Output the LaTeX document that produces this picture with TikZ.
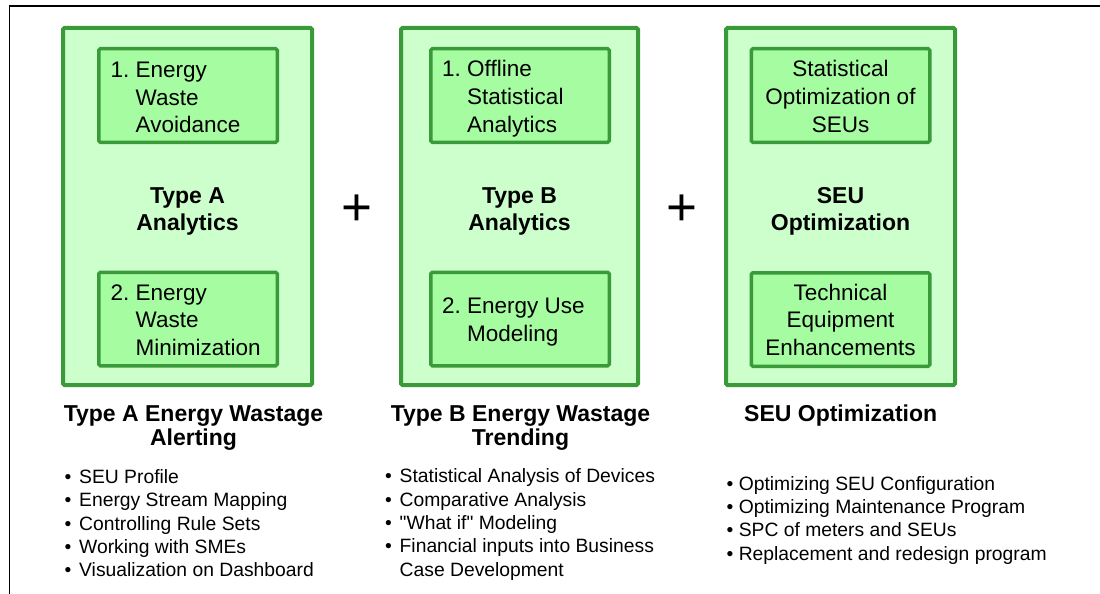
\documentclass[tikz,border=0pt]{standalone}
\usepackage{fontspec}
\setmainfont{Liberation Sans}[Ligatures=TeXOff]

\definecolor{panelfill}{RGB}{204,255,204}
\definecolor{cardfill}{RGB}{166,252,160}
\definecolor{edgegreen}{RGB}{58,154,58}

\tikzset{
  panel/.style={draw=edgegreen, line width=4pt, fill=panelfill, rounded corners=1.5pt,
    inner sep=0pt, minimum width=#1, minimum height=357pt},
  card/.style={draw=edgegreen, line width=3.5pt, fill=cardfill, rounded corners=1.5pt,
    inner sep=0pt, minimum width=178.5pt, minimum height=93.5pt},
  cardtext/.style={inner sep=0pt, font=\fontsize{22.5}{27.8}\selectfont},
  headtext/.style={inner sep=0pt, anchor=base, font=\bfseries\fontsize{23}{27.7}\selectfont},
  captext/.style={inner sep=0pt, anchor=base, font=\bfseries\fontsize{23}{23.3}\selectfont},
  listtext/.style={inner sep=0pt, anchor=base west, font=\fontsize{19.3}{23.35}\selectfont},
  plussign/.style={inner sep=0pt, font=\fontsize{53}{60}\selectfont},
  frameline/.style={line width=1.5pt, draw=black},
}
\newcommand{\bul}[1][14.7pt]{\makebox[#1][l]{•}}

\begin{document}
\begin{tikzpicture}[x=1pt, y=-1pt]
\useasboundingbox (0,0) rectangle (1100,594);

% page frame (top and left rules)
\coordinate (frameBL) at (9.3,594);
\coordinate (frameTL) at (9.3,6);
\coordinate (frameTR) at (1100,6);
\draw[frameline] (frameBL) -- (frameTL) -- (frameTR);

% three panels
\node[panel=249pt] (panelA) at (187.5,206.5) {};
\node[panel=237pt] (panelB) at (519.5,206.5) {};
\node[panel=229pt] (panelC) at (840.5,206.5) {};

% inner cards
\node[card] (cardA1) at (188,95.5) {};
\node[card] (cardA2) at (188,319) {};
\node[card] (cardB1) at (520,95.5) {};
\node[card] (cardB2) at (520,319) {};
\node[card] (cardC1) at (840.5,95.5) {};
\node[card] (cardC2) at (840.5,319.5) {};

% card texts
\node[cardtext, anchor=base west] (textA1) at (110.5,77.3)
  {\begin{tabular}[t]{@{}l@{\ }l@{}}1.&Energy\\&Waste\\&Avoidance\end{tabular}};
\node[cardtext, anchor=base west] (textA2) at (110.5,300)
  {\begin{tabular}[t]{@{}l@{\ }l@{}}2.&Energy\\&Waste\\&Minimization\end{tabular}};
\node[cardtext, anchor=base west] (textB1) at (442,76.7)
  {\begin{tabular}[t]{@{}l@{\ }l@{}}1.&Offline\\&Statistical\\&Analytics\end{tabular}};
\node[cardtext, anchor=base west] (textB2) at (442,313.3)
  {\begin{tabular}[t]{@{}l@{\ }l@{}}2.&Energy Use\\&Modeling\end{tabular}};
\node[cardtext, anchor=base] (textC1) at (840.5,76.7)
  {\begin{tabular}[t]{@{}c@{}}Statistical\\Optimization of\\SEUs\end{tabular}};
\node[cardtext, anchor=base] (textC2) at (840.5,300)
  {\begin{tabular}[t]{@{}c@{}}Technical\\Equipment\\Enhancements\end{tabular}};

% panel headings
\node[headtext] (headA) at (187.5,203) {\begin{tabular}[t]{@{}c@{}}Type A\\Analytics\end{tabular}};
\node[headtext] (headB) at (519.5,203) {\begin{tabular}[t]{@{}c@{}}Type B\\Analytics\end{tabular}};
\node[headtext] (headC) at (840.5,203) {\begin{tabular}[t]{@{}c@{}}SEU\\Optimization\end{tabular}};

% plus signs between panels
\node[plussign] (plusAB) at (357,210.5) {+};
\node[plussign] (plusBC) at (682,210.5) {+};

% captions under panels
\node[captext] (capA) at (193.5,421.7) {\begin{tabular}[t]{@{}c@{}}Type A Energy Wastage\\Alerting\end{tabular}};
\node[captext] (capB) at (520.5,421.7) {\begin{tabular}[t]{@{}c@{}}Type B Energy Wastage\\Trending\end{tabular}};
\node[captext] (capC) at (840.7,421.7) {SEU Optimization};

% bullet lists
\node[listtext] (listA) at (64.3,483.3) {\begin{tabular}[t]{@{}l@{}}
  \bul SEU Profile\\
  \bul Energy Stream Mapping\\
  \bul Controlling Rule Sets\\
  \bul Working with SMEs\\
  \bul Visualization on Dashboard\end{tabular}};
\node[listtext] (listB) at (385,482.7) {\begin{tabular}[t]{@{}l@{}}
  \bul[14.5pt]Statistical Analysis of Devices\\
  \bul[14.5pt]Comparative Analysis\\
  \bul[14.5pt]"What if" Modeling\\
  \bul[14.5pt]Financial inputs into Business\\
  \hspace*{14.5pt}Case Development\end{tabular}};
\node[listtext] (listC) at (726.5,490) {\begin{tabular}[t]{@{}l@{}}
  • Optimizing SEU Configuration\\
  • Optimizing Maintenance Program\\
  • SPC of meters and SEUs\\
  • Replacement and redesign program\end{tabular}};
\end{tikzpicture}
\end{document}
